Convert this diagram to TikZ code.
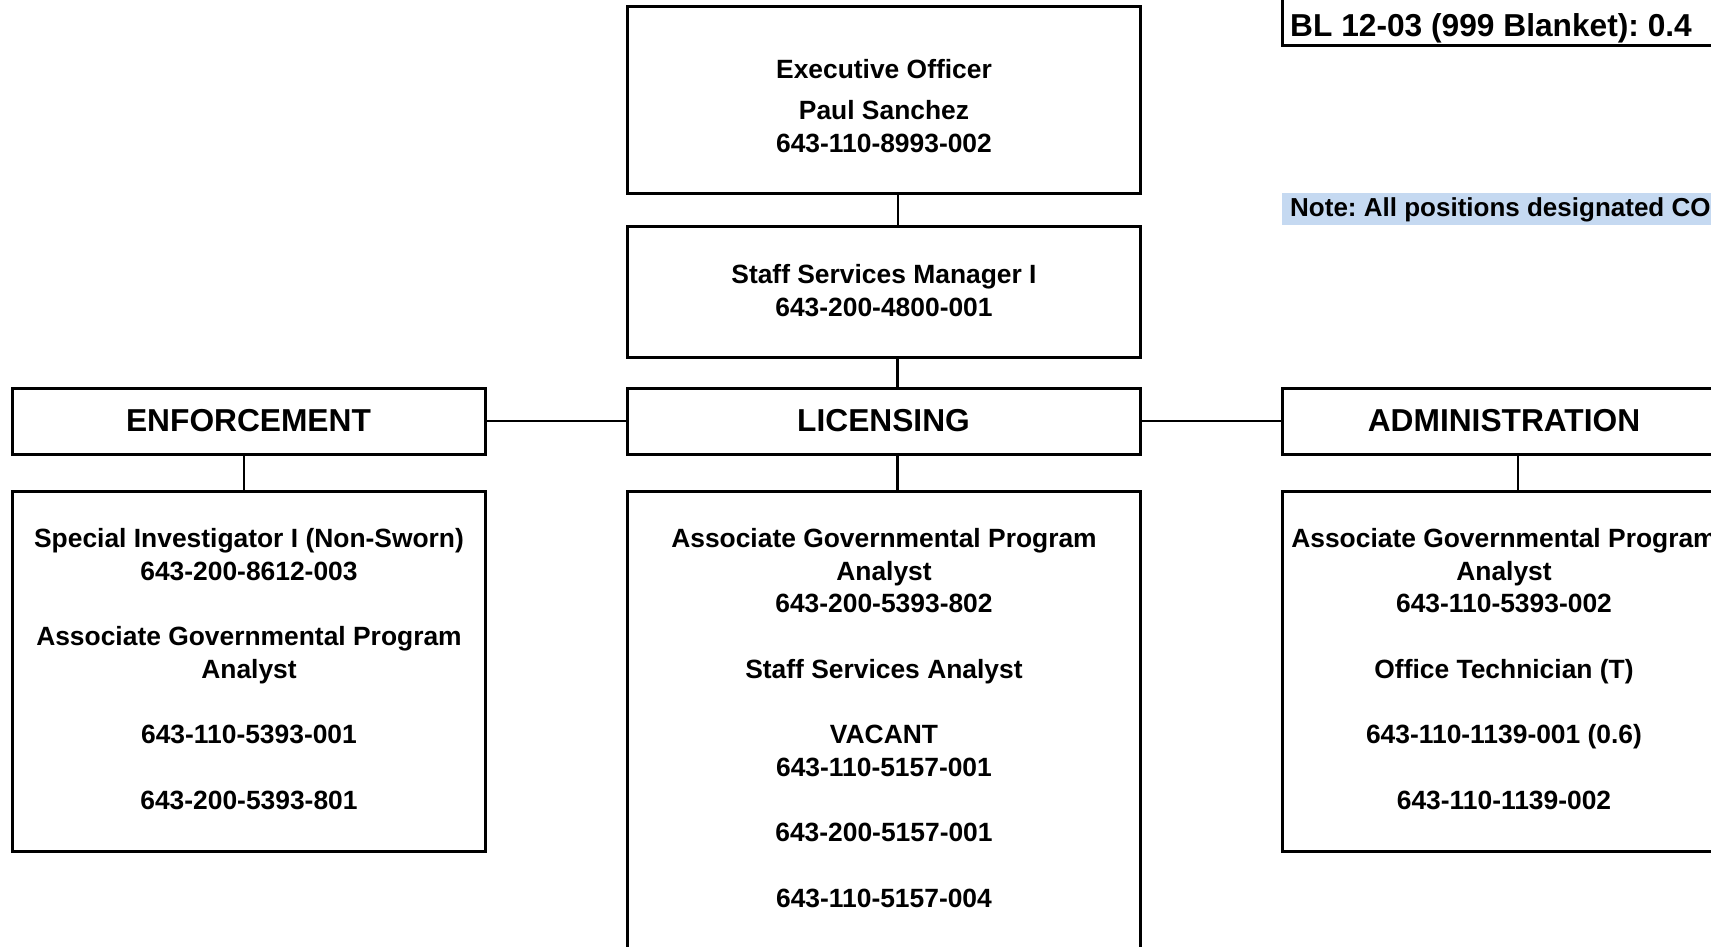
\documentclass[tikz,border=0pt]{standalone}
\usepackage{fontspec}
\setmainfont{Liberation Sans}
\frenchspacing
\definecolor{noteblue}{RGB}{197,217,241}
\begin{document}
\begin{tikzpicture}[x=1pt,y=-1pt,
  box/.style={draw=black, line width=3pt, inner sep=0pt, outer sep=0pt, anchor=north west},
  conn/.style={draw=black, line width=2.4pt},
  head/.style={font={\fontsize{31.7}{38}\selectfont\bfseries\frenchspacing}},
  body/.style={font={\fontsize{26.4}{32.7}\selectfont\bfseries\frenchspacing}, align=center, anchor=base, inner sep=0pt}
]
\useasboundingbox (0,0) rectangle (1711,946);
\fill[white] (0,0) rectangle (1711,946);
\clip (0,0) rectangle (1711,946);

% top-right legend box and note
\node[box, anchor=south west, minimum width=600pt, minimum height=120pt] (bl) at (1282,45) {};
\node[anchor=base west, inner sep=0pt, font={\fontsize{31.7}{38}\selectfont\bfseries\frenchspacing}] (blT) at (1290,36) {BL 12-03 (999 Blanket): 0.4};
\node[fill=noteblue, anchor=north west, inner sep=0pt, minimum width=600pt, minimum height=32pt] (note) at (1282,193) {};
\node[anchor=base west, inner sep=0pt, font={\fontsize{26}{32}\selectfont\bfseries\frenchspacing}] (noteT) at (1290,216) {Note: All positions designated CO};

% boxes
\node[box, minimum width=513pt, minimum height=187pt] (exec) at (627,6) {};
\node[box, minimum width=513pt, minimum height=131pt] (ssm) at (627,226) {};
\node[box, head, minimum width=473pt, minimum height=66pt] (enf) at (12,388) {ENFORCEMENT};
\node[box, head, minimum width=513pt, minimum height=66pt] (lic) at (627,388) {LICENSING};
\node[box, head, minimum width=444pt, minimum height=66pt] (adm) at (1282,388) {ADMINISTRATION};
\node[box, minimum width=473pt, minimum height=360pt] (enflow) at (12,491) {};
\node[box, minimum width=513pt, minimum height=540pt] (liclow) at (627,491) {};
\node[box, minimum width=444pt, minimum height=360pt] (admlow) at (1282,491) {};

% texts (anchored at the baseline of their last line)
\node[body] (execT) at (884,152) {Executive Officer\\[8pt]Paul Sanchez\\643-110-8993-002};
\node[body] (ssmT) at (884,316) {Staff Services Manager I\\643-200-4800-001};
\node[body] (enfT) at (249,809) {Special Investigator I (Non-Sworn)\\643-200-8612-003\\[32.7pt]Associate Governmental Program\\Analyst\\[32.7pt]643-110-5393-001\\[32.7pt]643-200-5393-801};
\node[body] (licT) at (884,907) {Associate Governmental Program\\Analyst\\643-200-5393-802\\[32.7pt]Staff Services Analyst\\[32.7pt]VACANT\\643-110-5157-001\\[32.7pt]643-200-5157-001\\[32.7pt]643-110-5157-004};
\node[body] (admT) at (1504,809) {Associate Governmental Program\\Analyst\\643-110-5393-002\\[32.7pt]Office Technician (T)\\[32.7pt]643-110-1139-001 (0.6)\\[32.7pt]643-110-1139-002};

% connectors
\draw[conn] ([xshift=14.5pt]exec.south) -- ([xshift=14.5pt]ssm.north);
\draw[conn] ([xshift=14pt]ssm.south) -- ([xshift=14pt]lic.north);
\draw[conn] ([xshift=14pt]lic.south) -- ([xshift=14pt]liclow.north);
\draw[conn] ([xshift=-4.5pt]enf.south) -- ([xshift=-4.5pt]enflow.north);
\draw[conn] ([xshift=14pt]adm.south) -- ([xshift=14pt]admlow.north);
\draw[conn] (enf.east) -- (lic.west);
\draw[conn] (lic.east) -- (adm.west);
\end{tikzpicture}
\end{document}
